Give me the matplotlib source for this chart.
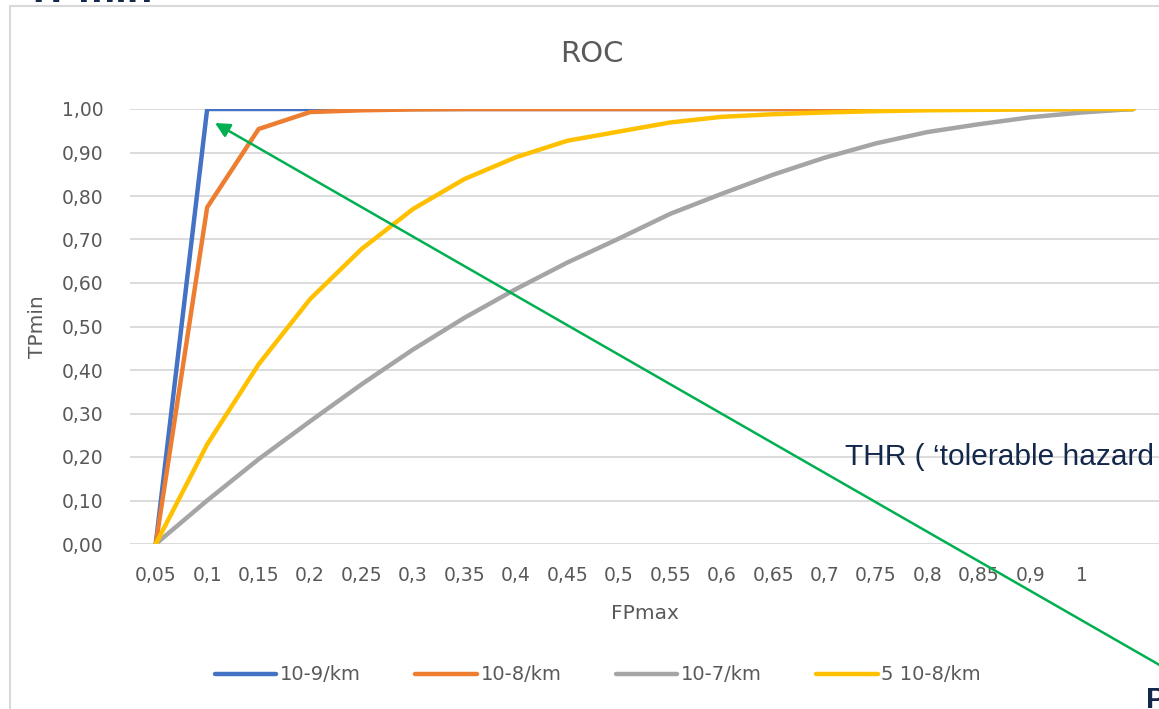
import matplotlib
matplotlib.use("Agg")
import matplotlib.pyplot as plt
from matplotlib.patches import Rectangle, FancyArrowPatch
import numpy as np

# FPmax categories and tick labels (last point carries no label)
fp_labels = ["0,05", "0,1", "0,15", "0,2", "0,25", "0,3", "0,35", "0,4", "0,45",
             "0,5", "0,55", "0,6", "0,65", "0,7", "0,75", "0,8", "0,85", "0,9", "1", ""]

# TPmin per hazard rate
tp_1e9 = [0.0, 1.0, 1.0, 1.0, 1.0, 1.0, 1.0, 1.0, 1.0, 1.0,
          1.0, 1.0, 1.0, 1.0, 1.0, 1.0, 1.0, 1.0, 1.0, 1.0]
tp_1e8 = [0.0, 0.774, 0.954, 0.993, 0.997, 0.999, 1.0, 1.0, 1.0, 1.0,
          1.0, 1.0, 1.0, 1.0, 1.0, 1.0, 1.0, 1.0, 1.0, 1.0]
tp_1e7 = [0.0, 0.10, 0.195, 0.282, 0.367, 0.447, 0.52, 0.586, 0.647, 0.702,
          0.759, 0.805, 0.849, 0.888, 0.921, 0.947, 0.965, 0.981, 0.992, 1.0]
tp_5e8 = [0.0, 0.229, 0.413, 0.563, 0.678, 0.770, 0.839, 0.889, 0.927, 0.948,
          0.969, 0.982, 0.988, 0.992, 0.995, 0.997, 0.998, 0.999, 1.0, 1.0]

series = [
    ("10-9/km", tp_1e9, "#4472C4"),
    ("10-8/km", tp_1e8, "#ED7D31"),
    ("10-7/km", tp_1e7, "#A5A5A5"),
    ("5 10-8/km", tp_5e8, "#FFC000"),
]

W, H = 1159, 709
fig = plt.figure(figsize=(W / 100, H / 100), dpi=100)
fig.patch.set_facecolor("white")

# chart frame
fig.add_artist(Rectangle((10 / W, -0.1), 1.2, 1.1 - 5.5 / H, transform=fig.transFigure,
                         fill=False, edgecolor="#d9d9d9", lw=1.5))

ax = fig.add_axes([130 / W, 1 - 544 / H, (W - 130) / W, 435 / H])
x = np.arange(len(fp_labels))
for name, vals, color in series:
    ax.plot(x, vals, color=color, lw=3.2, label=name, solid_capstyle="round",
            solid_joinstyle="round", zorder=3)

ax.set_xlim(-0.5, len(fp_labels) - 0.5)
ax.set_ylim(0, 1)
ax.set_yticks(np.arange(0, 1.01, 0.1))
ax.set_yticklabels([f"{v:.2f}".replace(".", ",") for v in np.arange(0, 1.01, 0.1)])
ax.set_xticks(x)
ax.set_xticklabels(fp_labels)
ax.grid(axis="y", color="#d9d9d9", lw=1.3, zorder=0)
ax.set_axisbelow(True)
for s in ax.spines.values():
    s.set_visible(False)
ax.tick_params(axis="y", length=0, pad=19, labelsize=13.5, labelcolor="#595959")
ax.tick_params(axis="x", length=0, pad=16, labelsize=13.5, labelcolor="#595959")

ax.set_xlabel("FPmax", fontsize=14.5, color="#595959")
ax.xaxis.set_label_coords(0.5, -0.138)
ax.set_ylabel("TPmin", fontsize=14.5, color="#595959")
ax.yaxis.set_label_coords(-0.081, 0.5)
ax.set_title("ROC", fontsize=21, color="#595959", x=(592 - 130) / (W - 130), y=1.09)

fig.legend(loc="center", bbox_to_anchor=(598 / W, 1 - 675 / H), ncol=4, frameon=False,
           fontsize=14, handlelength=3.15, handletextpad=0.2, columnspacing=2.8,
           labelcolor="#595959")

# slide overlays
navy = "#14284b"
fig.text(25 / W, 1 - 2 / H, "TPmin", fontsize=30, fontweight="bold", color=navy,
         family="Liberation Sans", va="baseline")
fig.text(845 / W, 1 - 465 / H, "THR ( \u2018tolerable hazard rate\u2019)", fontsize=21.5,
         color=navy, family="Liberation Sans", va="baseline", zorder=5)
fig.text(1146 / W, 1 - 686 / H, "P", fontsize=21, fontweight="bold", color=navy,
         family="Liberation Sans", va="top")

arrow = FancyArrowPatch((1170 / W, 1 - 671 / H), (215 / W, 1 - 123 / H),
                        transform=fig.transFigure, arrowstyle="-|>", mutation_scale=22,
                        color="#00B050", lw=1.8, shrinkA=0, shrinkB=0, zorder=10)
fig.add_artist(arrow)

fig.savefig("out.png", dpi=100, facecolor="white")
